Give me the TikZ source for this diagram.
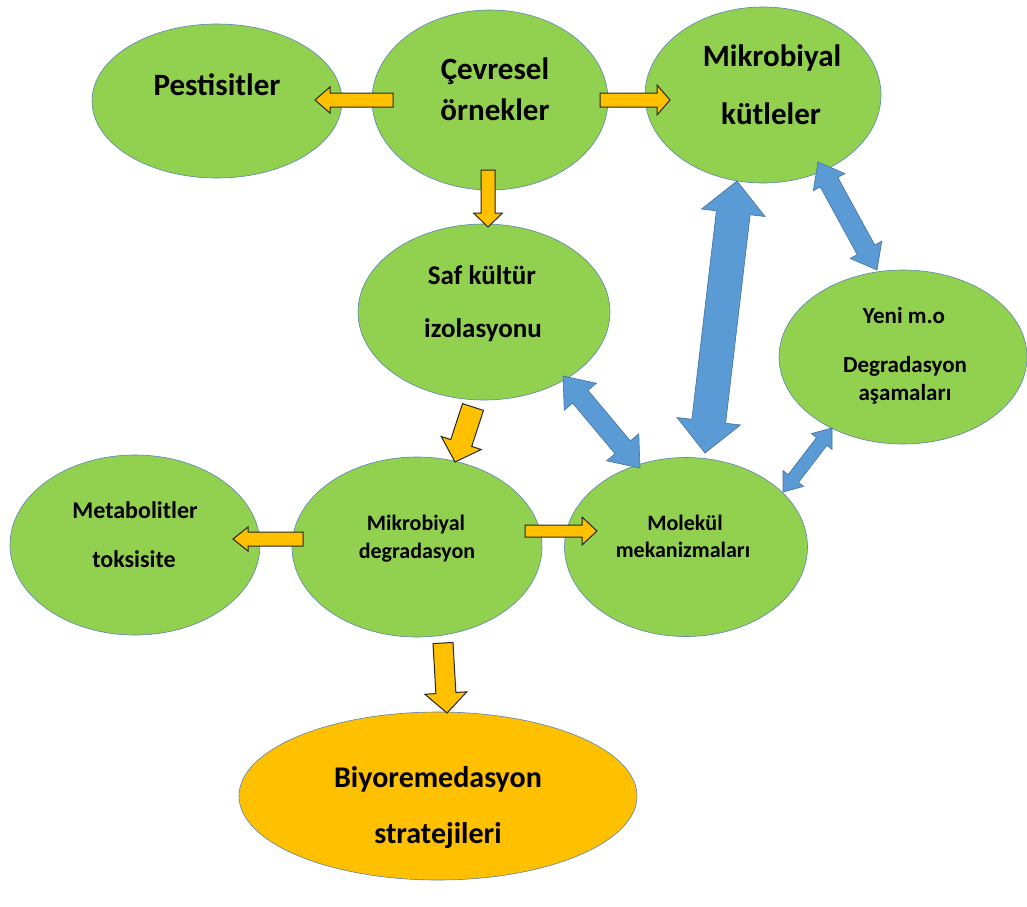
\documentclass[tikz,border=0pt]{standalone}
\usepackage{fontspec}
\setmainfont{Carlito}
\usetikzlibrary{shapes.geometric,calc}
\definecolor{ovgreen}{HTML}{92D050}
\definecolor{ovedge}{HTML}{5A84B2}
\definecolor{ovorange}{HTML}{FFC000}
\definecolor{arblue}{HTML}{5B9BD5}
\definecolor{arbedge}{HTML}{41719C}
\definecolor{arorange}{HTML}{FFC000}
\definecolor{aredge}{HTML}{262626}
\tikzset{
  oval/.style={ellipse, draw=ovedge, line width=0.6pt, fill=ovgreen, inner sep=0pt},
  lbl/.style={font=\bfseries\fontsize{#1}{#1}\selectfont, anchor=base, inner sep=0pt, text=black},
  orangearrow/.style={fill=arorange, draw=aredge, line width=1pt, line join=miter},
  bluearrow/.style={fill=arblue, draw=arbedge, line width=0.6pt, line join=miter}
}
% single block arrow: style, from, to, shaft half width, head half width, head length
\newcommand\sblockarrow[6]{%
  \coordinate (tmpN) at ($(#3)!#6!(#2)$);
  \draw[#1] ($(#2)!#4!90:(#3)$) -- ($(tmpN)!#4!90:(#3)$) -- ($(tmpN)!#5!90:(#3)$) -- (#3)
    -- ($(tmpN)!#5!-90:(#3)$) -- ($(tmpN)!#4!-90:(#3)$) -- ($(#2)!#4!-90:(#3)$) -- cycle;
}
% double block arrow
\newcommand\dblockarrow[6]{%
  \coordinate (tmpA) at ($(#2)!#6!(#3)$);
  \coordinate (tmpB) at ($(#3)!#6!(#2)$);
  \draw[#1] (#2) -- ($(tmpA)!#5!90:(#3)$) -- ($(tmpA)!#4!90:(#3)$) -- ($(tmpB)!#4!90:(#3)$)
    -- ($(tmpB)!#5!90:(#3)$) -- (#3) -- ($(tmpB)!#5!-90:(#3)$) -- ($(tmpB)!#4!-90:(#3)$)
    -- ($(tmpA)!#4!-90:(#3)$) -- ($(tmpA)!#5!-90:(#3)$) -- cycle;
}
\begin{document}
\begin{tikzpicture}[x=1pt,y=-1pt]
\useasboundingbox[fill=white] (0,0) rectangle (1027,906);

% ellipses
\node[oval, minimum width=250pt, minimum height=154pt] (pest) at (217,101) {};
\node[oval, minimum width=236pt, minimum height=180pt] (cev) at (490,100) {};
\node[oval, minimum width=236pt, minimum height=176pt] (mkut) at (763,95) {};
\node[oval, minimum width=252pt, minimum height=176pt] (saf) at (484,312) {};
\node[oval, minimum width=248pt, minimum height=174pt] (yeni) at (903,357) {};
\node[oval, minimum width=250pt, minimum height=180pt] (meta) at (135,545) {};
\node[oval, minimum width=250pt, minimum height=180pt] (mdeg) at (417,547) {};
\node[oval, minimum width=243pt, minimum height=179pt] (molk) at (686,547) {};
\node[oval, fill=ovorange, minimum width=398pt, minimum height=168pt] (biyo) at (438,796) {};

% texts
\node[lbl=31] (pestT) at (217,95) {Pestisitler};
\node[lbl=31] (cevT1) at (495,79) {Çevresel};
\node[lbl=31] (cevT2) at (495,120) {örnekler};
\node[lbl=31] (mkutT1) at (772,66) {Mikrobiyal};
\node[lbl=31] (mkutT2) at (771,124) {kütleler};
\node[lbl=27] (safT1) at (482,284) {Saf kültür};
\node[lbl=27] (safT2) at (483,337) {izolasyonu};
\node[lbl=23] (yeniT1) at (904,323) {Yeni m.o};
\node[lbl=23] (yeniT2) at (905,372) {Degradasyon};
\node[lbl=23] (yeniT3) at (905,400) {aşamaları};
\node[lbl=24] (metaT1) at (135,518) {Metabolitler};
\node[lbl=24] (metaT2) at (134,567) {toksisite};
\node[lbl=22] (mdegT1) at (416,530) {Mikrobiyal};
\node[lbl=22] (mdegT2) at (417,558) {degradasyon};
\node[lbl=22] (molkT1) at (685,530) {Molekül};
\node[lbl=22] (molkT2) at (683,557) {mekanizmaları};
\node[lbl=30] (biyoT1) at (438,787) {Biyoremedasyon};
\node[lbl=30] (biyoT2) at (438,843) {stratejileri};

% arrow end points
\coordinate (a1s) at (393,100);  \coordinate (a1e) at (315,100);
\coordinate (a2s) at (600,100);  \coordinate (a2e) at (670,100);
\coordinate (a3s) at (488,170);  \coordinate (a3e) at (488,227);
\coordinate (a4s) at (473,407);  \coordinate (a4e) at (455,462);
\coordinate (a5s) at (303,539);  \coordinate (a5e) at (233,539);
\coordinate (a6s) at (525,531);  \coordinate (a6e) at (597,531);
\coordinate (a7s) at (443,643);  \coordinate (a7e) at (447,713);

\coordinate (b1s) at (563,376);  \coordinate (b1e) at (640,468);
\coordinate (b2s) at (705,453);  \coordinate (b2e) at (737,181);
\coordinate (b3s) at (818,162);  \coordinate (b3e) at (877,270);
\coordinate (b4s) at (783,492);  \coordinate (b4e) at (832,428);

% orange arrows
\sblockarrow{orangearrow}{a1s}{a1e}{7pt}{13pt}{15pt}
\sblockarrow{orangearrow}{a2s}{a2e}{7pt}{15pt}{13pt}
\sblockarrow{orangearrow}{a3s}{a3e}{7pt}{14.5pt}{14pt}
\sblockarrow{orangearrow}{a4s}{a4e}{11pt}{21pt}{20pt}
\sblockarrow{orangearrow}{a5s}{a5e}{7pt}{12pt}{15pt}
\sblockarrow{orangearrow}{a6s}{a6e}{6pt}{14pt}{15pt}
\sblockarrow{orangearrow}{a7s}{a7e}{10pt}{21pt}{20pt}

% blue double arrows
\dblockarrow{bluearrow}{b1s}{b1e}{10pt}{21pt}{27pt}
\dblockarrow{bluearrow}{b2s}{b2e}{17pt}{32pt}{32pt}
\dblockarrow{bluearrow}{b3s}{b3e}{10pt}{18pt}{23pt}
\dblockarrow{bluearrow}{b4s}{b4e}{6.5pt}{13pt}{17pt}
\end{tikzpicture}
\end{document}
